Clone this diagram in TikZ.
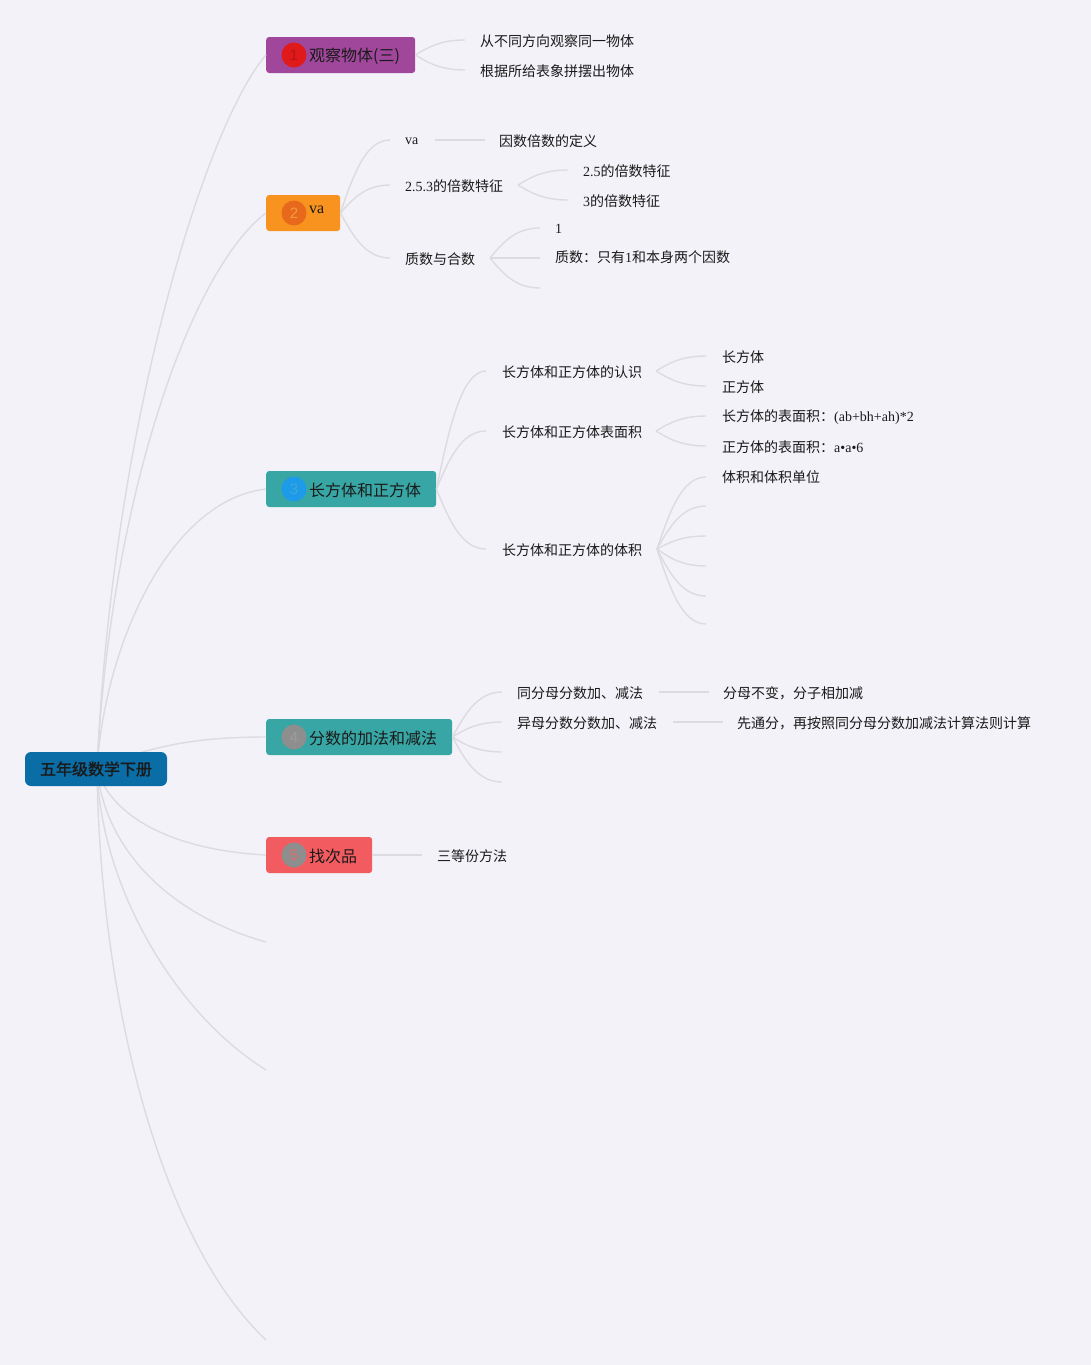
\documentclass[tikz,border=0pt]{standalone}
\usepackage{fontspec}
\setmainfont{Liberation Serif}
\newfontfamily\cjk{Noto Sans CJK SC}
\newfontfamily\cjkb{Noto Sans CJK SC}[FakeBold=1.6]
\newfontfamily\numf{Liberation Sans}
\usetikzlibrary{calc}
\definecolor{bg}{HTML}{F3F2F9}
\definecolor{connc}{HTML}{DCDBE0}
\definecolor{txt}{HTML}{1A1A1A}
\definecolor{rootc}{HTML}{0B6DA6}
\definecolor{purp}{HTML}{A0479B}
\definecolor{oran}{HTML}{F7931E}
\definecolor{teal}{HTML}{38A6A4}
\definecolor{coral}{HTML}{F25B5F}
\definecolor{c1f}{HTML}{E0191A}
\definecolor{c1t}{HTML}{B81414}
\definecolor{c2f}{HTML}{E8691B}
\definecolor{c2t}{HTML}{F39A3F}
\definecolor{c3f}{HTML}{1E9BE8}
\definecolor{c3t}{HTML}{3FA6D8}
\definecolor{cgf}{HTML}{8E8E8E}
\definecolor{c4t}{HTML}{9C9C9C}
\definecolor{c5t}{HTML}{E06A6C}
\tikzset{
  conn/.style={draw=connc, line width=1.4pt},
  leaf/.style={anchor=west, inner sep=0pt, font=\cjk\fontsize{14}{14}\selectfont, text=txt},
  brbox/.style={anchor=west, rounded corners=3pt, minimum height=36pt, inner sep=0pt},
  badge/.style={circle, minimum size=25pt, inner sep=0pt, font=\numf\fontsize{15}{15}\selectfont},
  brlabel/.style={anchor=west, inner sep=0pt, font=\cjk\fontsize{16}{16}\selectfont, text=txt},
}
\newcommand\subc[2]{\draw[conn] let \p1=(#1), \p2=(#2) in (\p1) .. controls ({\x1+0.25*(\x2-\x1)},{\y1+0.5*(\y2-\y1)}) and ({\x1+0.5*(\x2-\x1)},\y2) .. (\p2);}
\begin{document}
\begin{tikzpicture}[x=1pt,y=-1pt]
\fill[bg] (0,0) rectangle (1091,1365);
\useasboundingbox (0,0) rectangle (1091,1365);

% root and branch boxes (positions)
\coordinate (rc) at (97,769);
\coordinate (e6) at (266,942);
\coordinate (e7) at (266,1070);
\coordinate (e8) at (266,1340);

\node[brbox, fill=purp, minimum width=149pt] (b1) at (266,55) {};
\node[brbox, fill=oran, minimum width=74pt] (b2) at (266,213) {};
\node[brbox, fill=teal, minimum width=170pt] (b3) at (266,489) {};
\node[brbox, fill=teal, minimum width=186pt] (b4) at (266,737) {};
\node[brbox, fill=coral, minimum width=106pt] (b5) at (266,855) {};

% root connectors (behind root box)
\draw[conn] (rc) .. controls (112,426) and (205,126) .. (b1.west);
\draw[conn] (rc) .. controls (110,502) and (190,270) .. (b2.west);
\draw[conn] (rc) .. controls (105,643) and (170,500) .. (b3.west);
\draw[conn] (rc) .. controls (150,745) and (200,737) .. (b4.west);
\draw[conn] (rc) .. controls (110,815) and (170,850) .. (b5.west);
\draw[conn] (rc) .. controls (105,850) and (170,915) .. (e6);
\draw[conn] (rc) .. controls (100,880) and (170,1010) .. (e7);
\draw[conn] (rc) .. controls (100,1000) and (160,1240) .. (e8);

\node[fill=rootc, rounded corners=6pt, minimum width=142pt, minimum height=34pt, inner sep=0pt,
      font=\cjkb\fontsize{16}{16}\selectfont, text=txt] (root) at (96,769) {五年级数学下册};

% badges and labels
\node[badge, fill=c1f, text=c1t] (c1) at (294,55) {1};
\node[brlabel] (l1) at (309,56) {观察物体(三)};
\node[badge, fill=c2f, text=c2t] (c2) at (294,213) {2};
\node[brlabel, font=\fontsize{16}{16}\selectfont] (l2) at (309,210) {va};
\node[badge, fill=c3f, text=c3t] (c3) at (294,489) {3};
\node[brlabel] (l3) at (309,490) {长方体和正方体};
\node[badge, fill=cgf, text=c4t] (c4) at (294,737) {4};
\node[brlabel] (l4) at (309,738) {分数的加法和减法};
\node[badge, fill=cgf, text=c5t] (c5) at (294,855) {5};
\node[brlabel] (l5) at (309,856) {找次品};

% ---------- branch 1
\node[leaf] (t1a) at (480,41) {从不同方向观察同一物体};
\node[leaf] (t1b) at (480,71) {根据所给表象拼摆出物体};
\coordinate (s1a) at (465,40);
\coordinate (s1b) at (465,70);
\subc{b1.east}{s1a}
\subc{b1.east}{s1b}

% ---------- branch 2
\node[leaf, font=\fontsize{14}{14}\selectfont] (t2a) at (405,141) {va};
\node[leaf] (t2b) at (405,186) {{\rmfamily 2.5.3}的倍数特征};
\node[leaf] (t2c) at (405,259) {质数与合数};
\coordinate (s2a) at (390,140);
\coordinate (s2b) at (390,185);
\coordinate (s2c) at (390,258);
\subc{b2.east}{s2a}
\subc{b2.east}{s2b}
\subc{b2.east}{s2c}

\coordinate (p2a) at (435,140);
\coordinate (q2a) at (485,140);
\draw[conn] (p2a) -- (q2a);
\node[leaf] (t2d) at (499,141) {因数倍数的定义};

\coordinate (p2b) at (518,185);
\coordinate (s2e) at (568,170);
\coordinate (s2f) at (568,200);
\subc{p2b}{s2e}
\subc{p2b}{s2f}
\node[leaf] (t2e) at (583,171) {{\rmfamily 2.5}的倍数特征};
\node[leaf] (t2f) at (583,201) {{\rmfamily 3}的倍数特征};

\coordinate (p2c) at (490,258);
\coordinate (s2g) at (540,228);
\coordinate (s2h) at (540,258);
\coordinate (s2i) at (540,288);
\subc{p2c}{s2g}
\subc{p2c}{s2h}
\subc{p2c}{s2i}
\node[leaf, font=\fontsize{14}{14}\selectfont] (t2g) at (555,229) {1};
\node[leaf] (t2h) at (555,257) {质数：只有{\rmfamily 1}和本身两个因数};

% ---------- branch 3
\coordinate (s3a) at (486,371);
\coordinate (s3b) at (486,431);
\coordinate (s3c) at (486,549);
\subc{b3.east}{s3a}
\subc{b3.east}{s3b}
\subc{b3.east}{s3c}
\node[leaf] (t3a) at (502,372) {长方体和正方体的认识};
\node[leaf] (t3b) at (502,432) {长方体和正方体表面积};
\node[leaf] (t3c) at (502,550) {长方体和正方体的体积};

\coordinate (p3a) at (656,371);
\coordinate (s3d) at (706,356);
\coordinate (s3e) at (706,386);
\subc{p3a}{s3d}
\subc{p3a}{s3e}
\node[leaf] (t3d) at (722,357) {长方体};
\node[leaf] (t3e) at (722,387) {正方体};

\coordinate (p3b) at (656,431);
\coordinate (s3f) at (706,416);
\coordinate (s3g) at (706,446);
\subc{p3b}{s3f}
\subc{p3b}{s3g}
\node[leaf] (t3f) at (722,417) {长方体的表面积：{\rmfamily (ab+bh+ah)*2}};
\node[leaf] (t3g) at (722,447) {正方体的表面积：{\rmfamily a•a•6}};

\coordinate (p3c) at (657,549);
\coordinate (s3h) at (706,477);
\coordinate (s3i) at (706,506);
\coordinate (s3j) at (706,536);
\coordinate (s3k) at (706,566);
\coordinate (s3l) at (706,596);
\coordinate (s3m) at (706,624);
\subc{p3c}{s3h}
\subc{p3c}{s3i}
\subc{p3c}{s3j}
\subc{p3c}{s3k}
\subc{p3c}{s3l}
\subc{p3c}{s3m}
\node[leaf] (t3h) at (722,477) {体积和体积单位};

% ---------- branch 4
\coordinate (s4a) at (502,692);
\coordinate (s4b) at (502,722);
\coordinate (s4c) at (502,752);
\coordinate (s4d) at (502,782);
\subc{b4.east}{s4a}
\subc{b4.east}{s4b}
\subc{b4.east}{s4c}
\subc{b4.east}{s4d}
\node[leaf] (t4a) at (517,693) {同分母分数加、减法};
\node[leaf] (t4b) at (517,723) {异母分数分数加、减法};

\coordinate (p4a) at (659,692);
\coordinate (q4a) at (709,692);
\draw[conn] (p4a) -- (q4a);
\node[leaf] (t4c) at (723,693) {分母不变，分子相加减};
\coordinate (p4b) at (673,722);
\coordinate (q4b) at (723,722);
\draw[conn] (p4b) -- (q4b);
\node[leaf] (t4d) at (737,723) {先通分，再按照同分母分数加减法计算法则计算};

% ---------- branch 5
\coordinate (s5a) at (422,855);
\draw[conn] (b5.east) -- (s5a);
\node[leaf] (t5a) at (437,856) {三等份方法};
\end{tikzpicture}
\end{document}
